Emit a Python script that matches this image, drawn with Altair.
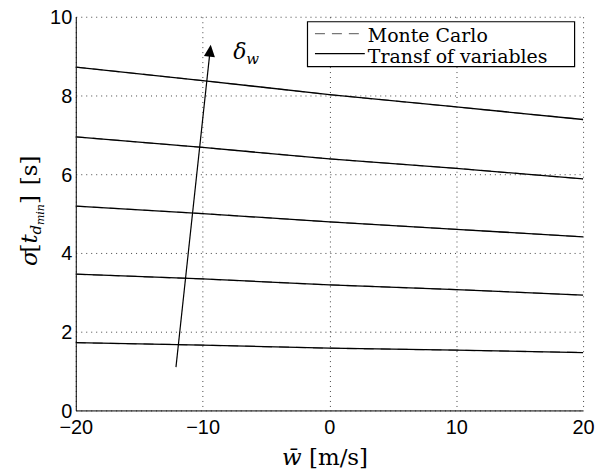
import math
import altair as alt
import pandas as pd

# ---- data ----
w_bar = [-20, -10, 0, 10, 20]
sigma_1 = [1.72, 1.66, 1.58, 1.53, 1.47]
sigma_2 = [3.46, 3.34, 3.19, 3.07, 2.93]
sigma_3 = [5.19, 5.00, 4.79, 4.60, 4.41]
sigma_4 = [6.95, 6.68, 6.39, 6.15, 5.88]
sigma_5 = [8.72, 8.38, 8.02, 7.71, 7.39]
series_values = [sigma_1, sigma_2, sigma_3, sigma_4, sigma_5]
methods = ["Monte Carlo", "Transf of variables"]

x_ticks = [-20, -10, 0, 10, 20]
y_ticks = [0, 2, 4, 6, 8, 10]

arrow_x = [-12.1, -9.41]
arrow_y = [1.1, 9.14]

W, H = 509, 395

rows = []
for m in methods:
    for k, vals in enumerate(series_values):
        for x, y in zip(w_bar, vals):
            rows.append({"w": x, "s": y, "curve": k, "method": m})
df = pd.DataFrame(rows)

xs = alt.Scale(domain=[-20, 20], nice=False, zero=False)
ys = alt.Scale(domain=[0, 10], nice=False, zero=False)

xaxis = alt.Axis(values=x_ticks, title=None, grid=True, ticks=False,
                 labelFont="Liberation Sans", labelFontSize=20, labelColor="black",
                 labelPadding=7, format="d", labelFlush=False)
yaxis = alt.Axis(values=y_ticks, title=None, grid=True, ticks=False,
                 labelFont="Liberation Sans", labelFontSize=20, labelColor="black",
                 labelPadding=4, format="d", labelFlush=False, labelOffset=1)

base = alt.Chart(df)
mc = base.transform_filter(alt.datum.method == methods[0]).mark_line(
    strokeWidth=1.3, color="#777777", strokeDash=[10, 7]).encode(
    x=alt.X("w:Q", scale=xs, axis=xaxis),
    y=alt.Y("s:Q", scale=ys, axis=yaxis),
    detail="curve:N",
)
tv = base.transform_filter(alt.datum.method == methods[1]).mark_line(
    strokeWidth=1.3, color="black").encode(
    x="w:Q", y="s:Q", detail="curve:N",
)

adf = pd.DataFrame({"x": arrow_x, "y": arrow_y})
arrow_line = alt.Chart(adf).mark_line(color="black", strokeWidth=1.2).encode(x="x:Q", y="y:Q")
dx_px = (arrow_x[1] - arrow_x[0]) * W / 40
dy_px = (arrow_y[1] - arrow_y[0]) * H / 10
ang = math.degrees(math.atan2(dx_px, dy_px))
head = alt.Chart(pd.DataFrame({"x": [arrow_x[1]], "y": [arrow_y[1]]})).mark_point(
    shape="M0,-1L0.92,1L-0.92,1Z", size=144, filled=True, color="black", opacity=1, angle=ang
).encode(x="x:Q", y="y:Q")

one = pd.DataFrame({"a": [0]})

def txt(s, px, py, size, italic=False, angle=0, font="DejaVu Serif"):
    kw = dict(text=s, font=font, fontSize=size, color="black", align="left",
              baseline="alphabetic")
    if italic:
        kw["fontStyle"] = "italic"
    if angle:
        kw["angle"] = angle
    return alt.Chart(one).mark_text(**kw).encode(x=alt.value(px), y=alt.value(py))

# ---- legend (drawn by hand, like the reference's boxed legend) ----
leg_box = alt.Chart(one).mark_rect(fill="white", stroke="black", strokeWidth=1.2).encode(
    x=alt.value(232.5), x2=alt.value(500.5), y=alt.value(5), y2=alt.value(50))
leg_mc = alt.Chart(one).mark_rule(color="#777777", strokeWidth=1.3, strokeDash=[10, 7]).encode(
    x=alt.value(240), x2=alt.value(290), y=alt.value(17))
leg_tv = alt.Chart(one).mark_rule(color="black", strokeWidth=1.3).encode(
    x=alt.value(240), x2=alt.value(290), y=alt.value(37))

labels = [
    leg_box, leg_mc, leg_tv,
    txt(methods[0], 293, 25.5, 19),
    txt(methods[1], 293, 46.5, 19),
    # delta_w annotation
    txt("δ", 158, 42, 22, italic=True),
    txt("w", 171, 47, 15, italic=True),
    # x title
    txt("w̄", 207, 450, 23, italic=True),
    txt("[m/s]", 234, 450, 23),
    # y title (rotated)
    txt("σ", -39, 250, 23, italic=True, angle=270),
    txt("[", -39, 236.5, 23, angle=270),
    txt("t", -39, 227.5, 23, italic=True, angle=270),
    txt("d", -35, 218.5, 15, italic=True, angle=270),
    txt("min", -32, 209, 11, italic=True, angle=270),
    txt("]", -39, 188, 23, angle=270),
    txt("[s]", -39, 169, 23, angle=270),
]

chart = alt.layer(mc, tv, arrow_line, head, *labels).properties(
    width=W, height=H,
    autosize=alt.AutoSizeParams(type="none"),
    padding={"left": 68, "top": 8, "right": 20, "bottom": 60},
).configure_view(stroke=None).configure_axis(
    gridDash=[1, 4], gridColor="#444444", gridWidth=1, gridOpacity=1,
    domainColor="black", domainWidth=1,
)

chart.save("out.html", embed_options={"renderer": "svg", "actions": False})
